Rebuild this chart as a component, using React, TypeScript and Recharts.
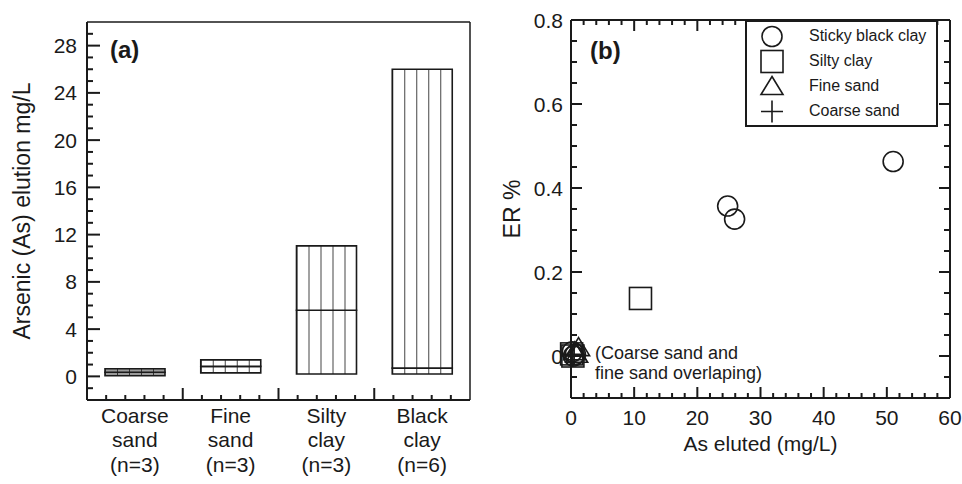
import React from "react";
import {
  ComposedChart,
  Bar,
  Cell,
  XAxis,
  YAxis,
  ScatterChart,
  Scatter,
  Legend,
} from "recharts";

const FONT = '"Liberation Sans", Arial, Helvetica, sans-serif';
const INK = "#1a1a1a";
const GAP = 8;

// ---- panel (a): range boxes of As elution per soil type ----
const soilTypes = ["Coarse\nsand\n(n=3)", "Fine\nsand\n(n=3)", "Silty\nclay\n(n=3)", "Black\nclay\n(n=6)"];
const boxLow = [0.05, 0.3, 0.2, 0.2];
const boxMedian = [0.35, 0.85, 5.6, 0.7];
const boxHigh = [0.65, 1.4, 11.05, 26.0];
const boxFills = ["url(#hatchGrey)", "url(#hatchWhite)", "url(#hatchWhite)", "url(#hatchWhite)"];

const elutionDomain: [number, number] = [-2, 30];
const elutionTicks = [-1, 0, 1, 2, 3, 4, 5, 6, 7, 8, 9, 10, 11, 12, 13, 14, 15, 16, 17, 18, 19, 20, 21, 22, 23, 24, 25, 26, 27, 28, 29];
const elutionMajors = [0, 4, 8, 12, 16, 20, 24, 28];
const bandDomain: [number, number] = [0, 4];
const bandTicks = [0.2, 0.4, 0.6, 0.8, 1, 1.2, 1.4, 1.6, 1.8, 2, 2.2, 2.4, 2.6, 2.8, 3, 3.2, 3.4, 3.6, 3.8];
const bandMajors = [1, 2, 3];

// ---- panel (b): ER % against eluted As ----
const stickyBlackClay = [
  { x: 51, y: 0.463 },
  { x: 24.8, y: 0.357 },
  { x: 25.9, y: 0.326 },
  { x: 0.2, y: 0.01 },
  { x: 0.7, y: 0.004 },
  { x: 0.4, y: 0.0 },
];
const siltyClay = [
  { x: 11, y: 0.137 },
  { x: 0.1, y: 0.005 },
  { x: 0.3, y: 0.0 },
];
const fineSand = [
  { x: 1.2, y: 0.02 },
  { x: 0.6, y: 0.01 },
  { x: 0.9, y: 0.004 },
];
const coarseSand = [
  { x: 0.3, y: 0.0 },
  { x: 0.5, y: 0.004 },
  { x: 0.2, y: 0.002 },
];

const erDomain: [number, number] = [-0.1, 0.8];
const erTicks = [-0.05, 0, 0.05, 0.1, 0.15, 0.2, 0.25, 0.3, 0.35, 0.4, 0.45, 0.5, 0.55, 0.6, 0.65, 0.7, 0.75, 0.8];
const erMajors = [0, 0.2, 0.4, 0.6, 0.8];
const asDomain: [number, number] = [0, 60];
const asTicks = [0, 2, 4, 6, 8, 10, 12, 14, 16, 18, 20, 22, 24, 26, 28, 30, 32, 34, 36, 38, 40, 42, 44, 46, 48, 50, 52, 54, 56, 58, 60];
const asMajors = [0, 10, 20, 30, 40, 50, 60];

type Kind = "circle" | "square" | "triangle" | "plus";

const scatterSeries: { name: string; data: { x: number; y: number }[]; kind: Kind }[] = [
  { name: "Sticky black clay", data: stickyBlackClay, kind: "circle" },
  { name: "Silty clay", data: siltyClay, kind: "square" },
  { name: "Fine sand", data: fineSand, kind: "triangle" },
  { name: "Coarse sand", data: coarseSand, kind: "plus" },
];

// frame tick positions (points sitting on the frame)
const elutionLeftTicks = elutionTicks.map((y) => ({ x: bandDomain[0], y }));
const bandBottomTicks = bandTicks.map((x) => ({ x, y: elutionDomain[0] }));
const erLeftTicks = erTicks.map((y) => ({ x: asDomain[0], y }));
const erRightTicks = erTicks.map((y) => ({ x: asDomain[1], y }));
const asBottomTicks = asTicks.map((x) => ({ x, y: erDomain[0] }));
const asTopTicks = asTicks.map((x) => ({ x, y: erDomain[1] }));

function Marker({ kind, cx, cy }: { kind: Kind; cx: number; cy: number }) {
  const common = { fill: "none", stroke: INK, strokeWidth: 1.6 };
  if (kind === "circle") return <circle cx={cx} cy={cy} r={10} {...common} />;
  if (kind === "square") return <rect x={cx - 11} y={cy - 11} width={22} height={22} {...common} />;
  if (kind === "triangle")
    return <path d={`M${cx},${cy - 10} L${cx + 11},${cy + 8} L${cx - 11},${cy + 8} Z`} {...common} />;
  return <path d={`M${cx - 11},${cy} H${cx + 11} M${cx},${cy - 11} V${cy + 11}`} {...common} />;
}

type Side = "left" | "right" | "top" | "bottom";
const isIn = (list: number[], v: number) => list.some((m) => Math.abs(m - v) < 1e-6);

function TickMark({ side, cx, cy, len, color }: { side: Side; cx: number; cy: number; len: number; color: string }) {
  const x2 = side === "left" ? cx + len : side === "right" ? cx - len : cx;
  const y2 = side === "top" ? cy + len : side === "bottom" ? cy - len : cy;
  return <line x1={cx} y1={cy} x2={x2} y2={y2} stroke={color} strokeWidth={2} />;
}

function labelTick(side: "left" | "bottom", majors: number[], fmt: (v: number) => string, offset: number) {
  return (p: any) => {
    const v = Number(p.payload.value);
    if (!isIn(majors, v)) return <g />;
    if (side === "left")
      return (
        <text x={p.x + GAP - offset} y={p.y} dy="0.36em" textAnchor="end" fontSize={21} fontFamily={FONT} fill={INK}>
          {fmt(v)}
        </text>
      );
    return (
      <text x={p.x} y={p.y - GAP + offset} textAnchor="middle" fontSize={21} fontFamily={FONT} fill={INK}>
        {fmt(v)}
      </text>
    );
  };
}

function CategoryLabel(p: any) {
  const lines = String(p.payload.value).split("\n");
  return (
    <text x={p.x} y={p.y + 22.5 - GAP} textAnchor="middle" fontSize={21} fontFamily={FONT} fill={INK}>
      {lines.map((l, i) => (
        <tspan key={i} x={p.x} dy={i === 0 ? 0 : 24.5}>
          {l}
        </tspan>
      ))}
    </text>
  );
}

const boxData = soilTypes.map((name, i) => ({
  name,
  base: boxLow[i],
  lower: boxMedian[i] - boxLow[i],
  upper: boxHigh[i] - boxMedian[i],
}));

function ElutionPanel() {
  return (
    <ComposedChart width={480} height={484} data={boxData} margin={{ top: 0, right: 0, bottom: 0, left: 0 }} barSize={60}>
      <defs>
        <pattern id="hatchWhite" patternUnits="objectBoundingBox" width={0.2} height={1}>
          <rect x={0} y={0} width={400} height={2000} fill="#ffffff" />
          <line x1={0.5} y1={0} x2={0.5} y2={2000} stroke="#444" strokeWidth={1} />
        </pattern>
        <pattern id="hatchGrey" patternUnits="objectBoundingBox" width={0.2} height={1}>
          <rect x={0} y={0} width={400} height={2000} fill="#9a9a9a" />
          <line x1={0.5} y1={0} x2={0.5} y2={2000} stroke="#333" strokeWidth={1} />
        </pattern>
      </defs>
      <XAxis
        xAxisId="cat"
        dataKey="name"
        height={84}
        tickSize={0}
        tickMargin={GAP}
        tickLine={false}
        axisLine={{ stroke: INK, strokeWidth: 2 }}
        interval={0}
        tick={CategoryLabel}
      />
      <XAxis
        xAxisId="top"
        dataKey="x"
        type="number"
        domain={bandDomain}
        allowDataOverflow
        orientation="top"
        height={22}
        tick={false}
        tickLine={false}
        axisLine={{ stroke: INK, strokeWidth: 1.5 }}
      />
      <YAxis
        yAxisId="v"
        dataKey="y"
        type="number"
        domain={elutionDomain}
        allowDataOverflow
        ticks={elutionTicks}
        interval={0}
        width={87}
        tickSize={0}
        tickMargin={GAP}
        tickLine={false}
        axisLine={{ stroke: INK, strokeWidth: 2 }}
        tick={labelTick("left", elutionMajors, (v) => String(v), 10)}
        label={{
          value: "Arsenic (As) elution mg/L",
          angle: -90,
          position: "insideLeft",
          offset: 22,
          style: { textAnchor: "middle", fontSize: 23, fontFamily: FONT, fill: INK },
        }}
      />
      <YAxis
        yAxisId="r"
        orientation="right"
        type="number"
        domain={elutionDomain}
        width={10}
        tick={false}
        tickLine={false}
        axisLine={{ stroke: INK, strokeWidth: 1.5 }}
      />
      <Bar dataKey="base" stackId="box" xAxisId="cat" yAxisId="v" fill="transparent" stroke="none" isAnimationActive={false} />
      <Bar dataKey="lower" stackId="box" xAxisId="cat" yAxisId="v" stroke={INK} strokeWidth={1.6} isAnimationActive={false}>
        {boxData.map((_, i) => (
          <Cell key={i} fill={boxFills[i]} />
        ))}
      </Bar>
      <Bar dataKey="upper" stackId="box" xAxisId="cat" yAxisId="v" stroke={INK} strokeWidth={1.6} isAnimationActive={false}>
        {boxData.map((_, i) => (
          <Cell key={i} fill={boxFills[i]} />
        ))}
      </Bar>
      <Scatter
        name="left frame ticks"
        data={elutionLeftTicks}
        xAxisId="top"
        yAxisId="v"
        legendType="none"
        isAnimationActive={false}
        shape={(p: any) => <TickMark side="left" cx={p.cx} cy={p.cy} len={isIn(elutionMajors, p.payload.y) ? 13 : 6} color={INK} />}
      />
      <Scatter
        name="bottom frame ticks"
        data={bandBottomTicks}
        xAxisId="top"
        yAxisId="v"
        legendType="none"
        isAnimationActive={false}
        shape={(p: any) => <TickMark side="bottom" cx={p.cx} cy={p.cy} len={isIn(bandMajors, p.payload.x) ? 12 : 5} color={INK} />}
      />
      <text x={110} y={58} fontSize={24} fontWeight="bold" fontFamily={FONT} fill={INK}>
        (a)
      </text>
    </ComposedChart>
  );
}

function LegendBox() {
  return (
    <div
      style={{
        width: 193,
        height: 107,
        boxSizing: "border-box",
        border: `2px solid ${INK}`,
        background: "#fff",
        paddingTop: 1.5,
        fontFamily: FONT,
        fontSize: 16,
        color: INK,
      }}
    >
      {scatterSeries.map((s) => (
        <div key={s.name} style={{ display: "flex", alignItems: "center", height: 25 }}>
          <svg width={52} height={25} style={{ display: "block" }}>
            <Marker kind={s.kind} cx={25} cy={12.5} />
          </svg>
          <span style={{ marginLeft: 10, whiteSpace: "nowrap" }}>{s.name}</span>
        </div>
      ))}
    </div>
  );
}

function ErPanel() {
  return (
    <ScatterChart width={482} height={484} margin={{ top: 0, right: 0, bottom: 0, left: 0 }}>
      <XAxis
        xAxisId="b"
        dataKey="x"
        type="number"
        domain={asDomain}
        ticks={asTicks}
        interval={0}
        height={86}
        tickSize={0}
        tickMargin={GAP}
        tickLine={false}
        axisLine={{ stroke: INK, strokeWidth: 2 }}
        tick={labelTick("bottom", asMajors, (v) => String(v), 26.5)}
        label={{
          value: "As eluted (mg/L)",
          position: "insideBottom",
          offset: 33.5,
          style: { fontSize: 21, fontFamily: FONT, fill: INK },
        }}
      />
      <XAxis
        xAxisId="t"
        dataKey="x"
        type="number"
        orientation="top"
        domain={asDomain}
        height={20}
        tick={false}
        tickLine={false}
        axisLine={{ stroke: INK, strokeWidth: 2 }}
      />
      <YAxis
        yAxisId="l"
        dataKey="y"
        type="number"
        domain={erDomain}
        ticks={erTicks}
        interval={0}
        width={91}
        tickSize={0}
        tickMargin={GAP}
        tickLine={false}
        axisLine={{ stroke: INK, strokeWidth: 2 }}
        tick={labelTick("left", erMajors, (v) => (v === 0 ? "0" : v.toFixed(1)), 8)}
        label={{
          value: "ER %",
          angle: -90,
          position: "insideLeft",
          offset: 32,
          style: { textAnchor: "middle", fontSize: 23, fontFamily: FONT, fill: INK },
        }}
      />
      <YAxis
        yAxisId="r"
        dataKey="y"
        type="number"
        orientation="right"
        domain={erDomain}
        width={12}
        tick={false}
        tickLine={false}
        axisLine={{ stroke: INK, strokeWidth: 2 }}
      />
      <Scatter
        name="left frame ticks"
        data={erLeftTicks}
        xAxisId="b"
        yAxisId="l"
        legendType="none"
        isAnimationActive={false}
        shape={(p: any) => <TickMark side="left" cx={p.cx} cy={p.cy} len={isIn(erMajors, p.payload.y) ? 11 : 6} color={INK} />}
      />
      <Scatter
        name="right frame ticks"
        data={erRightTicks}
        xAxisId="b"
        yAxisId="l"
        legendType="none"
        isAnimationActive={false}
        shape={(p: any) => <TickMark side="right" cx={p.cx} cy={p.cy} len={isIn(erMajors, p.payload.y) ? 11 : 6} color={INK} />}
      />
      <Scatter
        name="bottom frame ticks"
        data={asBottomTicks}
        xAxisId="b"
        yAxisId="l"
        legendType="none"
        isAnimationActive={false}
        shape={(p: any) => <TickMark side="bottom" cx={p.cx} cy={p.cy} len={isIn(asMajors, p.payload.x) ? 11 : 5} color={INK} />}
      />
      <Scatter
        name="top frame ticks"
        data={asTopTicks}
        xAxisId="b"
        yAxisId="l"
        legendType="none"
        isAnimationActive={false}
        shape={(p: any) => <TickMark side="top" cx={p.cx} cy={p.cy} len={isIn(asMajors, p.payload.x) ? 11 : 5} color={INK} />}
      />
      {scatterSeries.map((s) => (
        <Scatter
          key={s.name}
          name={s.name}
          data={s.data}
          xAxisId="b"
          yAxisId="l"
          isAnimationActive={false}
          shape={(p: any) => <Marker kind={s.kind} cx={p.cx} cy={p.cy} />}
        />
      ))}
      <Legend
        layout="vertical"
        align="center"
        verticalAlign="middle"
        wrapperStyle={{ top: 20, right: 24, left: "auto", width: "auto" }}
        content={() => <LegendBox />}
      />
      <text x={110} y={59} fontSize={24} fontWeight="bold" fontFamily={FONT} fill={INK}>
        (b)
      </text>
      <text x={115} y={359} fontSize={18} fontFamily={FONT} fill={INK}>
        (Coarse sand and
      </text>
      <text x={115} y={379} fontSize={18} fontFamily={FONT} fill={INK}>
        fine sand overlaping)
      </text>
    </ScatterChart>
  );
}

export default function App() {
  return (
    <div style={{ position: "absolute", left: 0, top: 0, width: 962, height: 484, background: "#fff", display: "flex" }}>
      <ElutionPanel />
      <ErPanel />
    </div>
  );
}
